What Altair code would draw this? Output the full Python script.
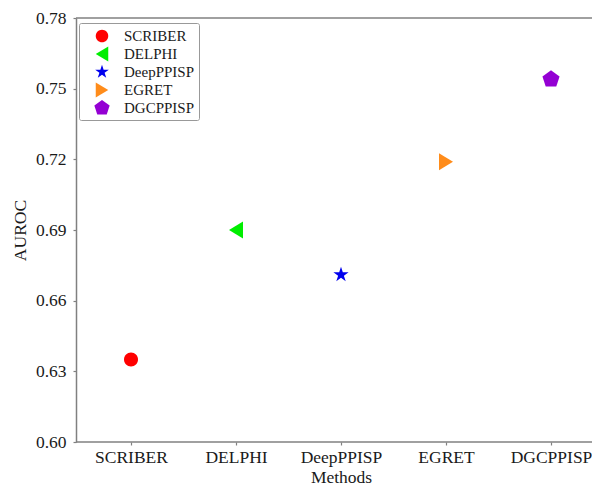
import altair as alt
import pandas as pd

methods = ["SCRIBER", "DELPHI", "DeepPPISP", "EGRET", "DGCPPISP"]
auroc = [0.635, 0.690, 0.671, 0.719, 0.754]
colors = ["#ff0000", "#00ee00", "#0000ee", "#ff8c1a", "#9400d3"]
y_ticks = [0.60, 0.63, 0.66, 0.69, 0.72, 0.75, 0.78]

# marker outlines (unit = 10 px at size 400)
circle = "M0.7,0A0.7,0.7 0 1,1 -0.7,0A0.7,0.7 0 1,1 0.7,0Z"
tri_left = "M-0.7,0L0.7,-0.85L0.7,0.85Z"
tri_right = "M0.7,0L-0.7,-0.85L-0.7,0.85Z"
star = ("M0,-0.8L0.18,-0.247L0.761,-0.247L0.29,0.094L0.47,0.647L0,0.306"
        "L-0.47,0.647L-0.29,0.094L-0.761,-0.247L-0.18,-0.247Z")
pentagon = "M0,-0.9L0.856,-0.278L0.529,0.728L-0.529,0.728L-0.856,-0.278Z"
shapes = [circle, tri_left, star, tri_right, pentagon]

df = pd.DataFrame({"Method": methods, "AUROC": auroc})
one = pd.DataFrame({"k": [0]})

FONT = "Liberation Serif"
LEFT = 68
W, H = 516, 424
X0, STEP = 55, 105
AX = "#808080"
TXT = "#1a1a1a"

x_enc = alt.X(
    "Method:N",
    sort=methods,
    scale=alt.Scale(domain=methods, range=[X0, X0 + 4 * STEP], padding=0),
    axis=alt.Axis(title="Methods", labelAngle=0, domain=False, tickSize=3,
                  labelPadding=3, titlePadding=3),
)
y_enc = alt.Y(
    "AUROC:Q",
    scale=alt.Scale(domain=[0.60, 0.78], nice=False, zero=False),
    axis=alt.Axis(title="AUROC", values=y_ticks, format=".2f", tickSize=3,
                  labelPadding=7, titlePadding=6),
)

legend = alt.Legend(title=None, orient="none", legendX=3, legendY=5,
                    labelExpr="datum.label + '\u00a0\u00a0'")

points = alt.Chart(df).mark_point(filled=True, opacity=1, size=400, strokeWidth=0).encode(
    x=x_enc,
    y=y_enc,
    color=alt.Color("Method:N", sort=methods, scale=alt.Scale(domain=methods, range=colors), legend=legend),
    shape=alt.Shape("Method:N", sort=methods, scale=alt.Scale(domain=methods, range=shapes), legend=legend),
)

top_spine = alt.Chart(one).mark_rule(color=AX, strokeWidth=1.5).encode(
    x=alt.value(0), x2=alt.value(W), y=alt.value(0)
)
bottom_spine = alt.Chart(one).mark_rule(color=AX, strokeWidth=1.5).encode(
    x=alt.value(0), x2=alt.value(W), y=alt.value(H)
)

chart = (
    alt.layer(top_spine, bottom_spine, points)
    .properties(
        width=W,
        height=H,
        autosize=alt.AutoSizeParams(type="none"),
        padding={"left": LEFT, "top": 10, "right": 0, "bottom": 45},
    )
    .configure(font=FONT)
    .configure_view(stroke=None)
    .configure_axis(
        labelFont=FONT,
        titleFont=FONT,
        labelFontSize=17.5,
        titleFontSize=17.5,
        labelColor=TXT,
        titleColor=TXT,
        titleFontWeight="normal",
        domainColor=AX,
        domainWidth=1.5,
        tickColor=AX,
        tickWidth=1.2,
        grid=False,
    )
    .configure_legend(
        labelFont=FONT,
        labelFontSize=15,
        labelColor=TXT,
        symbolSize=320,
        symbolStrokeWidth=0,
        rowPadding=1,
        padding=4,
        symbolOffset=10,
        labelOffset=13,
        strokeColor="#999999",
        fillColor="white",
        cornerRadius=2,
    )
)

chart.save("out.html", embed_options={"renderer": "svg", "actions": False})
